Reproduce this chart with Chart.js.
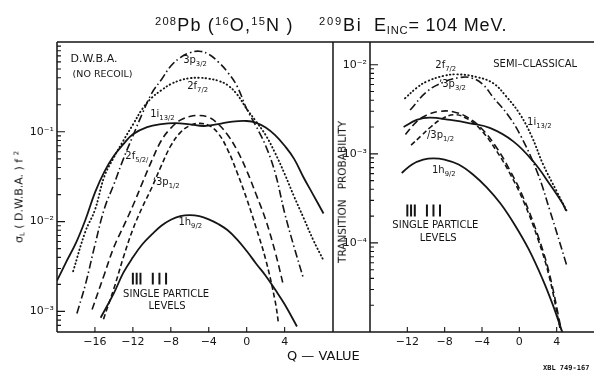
<!DOCTYPE html>
<html>
<head>
<meta charset="utf-8">
<script src="https://cdn.jsdelivr.net/npm/chart.js@4.4.1/dist/chart.umd.min.js"></script>
<style>
body { margin: 0; background: #fff; }
#wrap { position: relative; width: 594px; height: 378px; font-family: "DejaVu Sans", sans-serif; color: #111; overflow: hidden; }
#wrap canvas { position: absolute; left: 0; top: 0; }
.txt { position: absolute; white-space: nowrap; line-height: 1; }
.txt sup { font-size: 62%; position: relative; top: -0.55em; vertical-align: baseline; }
.txt sub { font-size: 62%; position: relative; top: 0.3em; vertical-align: baseline; }
.title { top: 16px; font-size: 18px; font-family: "Liberation Sans", sans-serif; letter-spacing: 1.2px; }
.rot { transform-origin: center center; transform: translate(-50%, -50%) rotate(-90deg); }
</style>
</head>
<body>
<div id="wrap">
  <canvas id="left" width="594" height="378"></canvas>
  <canvas id="right" width="594" height="378"></canvas>
  <div class="txt title" style="left:155px"><sup>208</sup>Pb (<sup>16</sup>O,<sup>15</sup>N )</div>
  <div class="txt title" style="left:319px;letter-spacing:1.8px"><sup>209</sup>Bi</div>
  <div class="txt title" style="left:374px;letter-spacing:0.8px">E<sub>INC</sub>= 104 MeV.</div>
  <div class="txt rot" style="left:19px;top:197px;font-size:11px">&sigma;<sub>L</sub> ( D.W.B.A. ) f <sup>2</sup></div>
  <div class="txt rot" style="left:342px;top:192px;font-size:10.5px">TRANSITION&nbsp;&nbsp; PROBABILITY</div>
  <div class="txt" style="left:287px;top:349px;font-size:13px">Q &mdash; VALUE</div>
  <div class="txt" style="left:543px;top:365px;font-size:7px;font-weight:bold;font-family:'DejaVu Sans Mono',monospace">XBL 749-167</div>
</div>
<script>
// ---- D.W.B.A. panel (left), Q-value vs sigma_L
let q3p32L = [-17.9,-17,-16,-15,-14,-13,-12,-11,-10,-9,-8,-7,-6,-5,-4,-3,-2,-1,0,1,2,3,4,5,6]
let v3p32L = [9.5e-4,2.0e-3,5.5e-3,0.014,0.026,0.05,0.09,0.16,0.27,0.38,0.54,0.67,0.76,0.79,0.73,0.6,0.46,0.32,0.18,0.115,0.07,0.035,0.0125,5.2e-3,2.3e-3]

let q2f72L = [-18.3,-17,-16,-15,-14,-13,-12,-11,-10,-9,-8,-7,-6,-5,-4,-3,-2,-1,0,1,2,3,4,5,6,7,8.1]
let v2f72L = [2.8e-3,7.8e-3,0.0135,0.032,0.052,0.08,0.12,0.18,0.24,0.29,0.34,0.375,0.395,0.4,0.39,0.37,0.33,0.26,0.18,0.13,0.092,0.058,0.034,0.019,0.011,6.3e-3,3.7e-3]

let q1i13L = [-20,-19,-18,-17,-16,-15,-14,-13,-12,-10.5,-9,-7.5,-6,-4.5,-3,-1.5,0,1,2,3,4,5,6,7,8.1]
let v1i13L = [2.2e-3,3.6e-3,5.8e-3,0.0105,0.021,0.036,0.054,0.073,0.094,0.113,0.122,0.125,0.121,0.116,0.122,0.13,0.132,0.126,0.112,0.092,0.07,0.05,0.031,0.02,0.0123]

let q2f52L = [-16.3,-15,-14,-13,-12,-11,-10,-9,-8,-7,-6,-5,-4,-3,-2,-1,0,1,2,3,3.9]
let v2f52L = [1.05e-3,2.6e-3,5.2e-3,8.8e-3,0.015,0.027,0.048,0.08,0.11,0.135,0.148,0.152,0.145,0.122,0.092,0.062,0.037,0.02,0.0105,4.6e-3,1.9e-3]

let q3p12L = [-15.1,-14,-13,-12,-11,-10,-9,-8,-7,-6,-5,-4,-3,-2,-1,0,1,2,3,3.35]
let v3p12L = [8.2e-4,1.8e-3,4.0e-3,8.2e-3,0.0145,0.024,0.042,0.07,0.098,0.117,0.124,0.118,0.096,0.063,0.035,0.018,8.5e-3,3.8e-3,1.3e-3,7.4e-4]

let q1h92L = [-15.4,-14,-13,-12,-11,-10,-9,-8,-7,-6,-5,-4,-3,-2,-1,0,1,2,3,4,5.3]
let v1h92L = [8.5e-4,1.6e-3,2.7e-3,4.0e-3,5.6e-3,7.2e-3,9.0e-3,0.0105,0.0115,0.0118,0.0115,0.0106,9.4e-3,8.0e-3,6.3e-3,4.7e-3,3.4e-3,2.5e-3,1.75e-3,1.2e-3,6.8e-4]

// ---- semi-classical panel (right), Q-value vs transition probability
let q2f72R = [-12.25,-11,-9.9,-8.1,-6.7,-4.6,-2.8,-1.4,0.1,1.35,2.55,4.0,5.1]
let v2f72R = [4.2e-3,5.5e-3,6.5e-3,7.5e-3,7.8e-3,7.3e-3,6.2e-3,4.4e-3,2.75e-3,1.55e-3,7.6e-4,3.8e-4,2.26e-4]

let q3p32R = [-11.7,-9.9,-8.1,-6.35,-5.1,-3.9,-2.8,-1.3,0.1,1.9,3.3,5.1]
let v3p32R = [3.1e-3,5.0e-3,6.4e-3,7.2e-3,7.1e-3,6.0e-3,4.3e-3,2.8e-3,1.63e-3,6.3e-4,2.26e-4,5.5e-5]

let q1i13R = [-12.4,-11,-9.6,-7.4,-5.3,-3.1,-0.65,1.5,3.3,4.7,5.0]
let v1i13R = [2.0e-3,2.4e-3,2.55e-3,2.4e-3,2.2e-3,1.94e-3,1.38e-3,8.2e-4,4.5e-4,2.7e-4,2.3e-4]

let q2f52R = [-12.2,-11,-10,-8.5,-7,-5.5,-4,-2.5,-1,0.5,2,3.2,4.5]
let v2f52R = [1.65e-3,2.3e-3,2.7e-3,3.0e-3,2.95e-3,2.55e-3,1.9e-3,1.2e-3,6.5e-4,3.1e-4,1.2e-4,4.6e-5,1.05e-5]

let q3p12R = [-11.6,-10.5,-9.5,-8.5,-7,-5.5,-4,-2.5,-1,0.5,2,3.2,4.4]
let v3p12R = [1.25e-3,1.6e-3,2.0e-3,2.4e-3,2.75e-3,2.45e-3,1.8e-3,1.1e-3,6.0e-4,2.85e-4,1.1e-4,4.2e-5,1.05e-5]

let q1h92R = [-12.6,-11.5,-10.3,-9.2,-8,-6.5,-5,-3.5,-2,-0.5,1,2.5,3.6,4.6]
let v1h92R = [6.1e-4,7.6e-4,8.6e-4,8.9e-4,8.6e-4,7.6e-4,5.9e-4,4.2e-4,2.75e-4,1.6e-4,8.5e-5,3.9e-5,2.0e-5,1.0e-5]

// single particle level positions (Q), tick labels
let levelQ = [-12.0,-11.6,-11.2,-9.9,-9.2,-8.5]
let xTicksL = [-16,-12,-8,-4,0,4]
let xTicksR = [-12,-8,-4,0,4]
let yLabelsL = [1e-3,1e-2,1e-1]
let yLabelsR = [1e-4,1e-3,1e-2]

const ink = '#151515'
const font = '"DejaVu Sans", sans-serif'

// line styles
let solid = { borderDash: [], borderWidth: 1.8 }
let dotted = { borderDash: [0.5, 3.2], borderWidth: 1.9, borderCapStyle: 'round' }
let dashDot = { borderDash: [8, 3, 1.5, 3], borderWidth: 1.6 }
let longDash = { borderDash: [7, 4], borderWidth: 1.6 }
let shortDash = { borderDash: [5, 3], borderWidth: 1.6 }

function series(q, v, style) {
    return Object.assign({
        data: q.map((x, i) => ({ x: x, y: v[i] })),
        borderColor: ink,
        pointRadius: 0,
        tension: 0.4,
        fill: false
    }, style)
}

const supDigits = { '-': '\u207B', '0': '\u2070', '1': '\u00B9', '2': '\u00B2', '3': '\u00B3', '4': '\u2074', '5': '\u2075' }
function powLabel(v, list) {
    if (!list.some(p => Math.abs(v / p - 1) < 1e-6)) return ''
    let e = String(Math.round(Math.log10(v)))
    return '10' + e.split('').map(c => supDigits[c]).join('')
}

function makeScales(xMin, xMax, yMin, yMax, xTicks, yLabels, yWidth) {
    return {
        x: {
            type: 'linear', min: xMin, max: xMax,
            grid: { display: false, drawTicks: false }, border: { display: false },
            afterBuildTicks: s => { s.ticks = xTicks.map(v => ({ value: v })) },
            afterFit: s => { s.height = 20 },
            ticks: {
                autoSkip: false, maxRotation: 0, padding: 4, color: ink,
                font: { family: font, size: 11 },
                callback: v => v < 0 ? '\u2212' + Math.abs(v) : String(v)
            }
        },
        y: {
            type: 'logarithmic', min: yMin, max: yMax,
            grid: { display: false, drawTicks: false }, border: { display: false },
            afterFit: s => { s.width = yWidth },
            ticks: {
                autoSkip: false, padding: 3, color: ink,
                font: { family: font, size: 11 },
                callback: v => powLabel(v, yLabels)
            }
        }
    }
}

function drawText(ctx, x, y, n) {
    let size = n.size || 10
    ctx.font = size + 'px ' + font
    ctx.textBaseline = 'middle'
    ctx.textAlign = n.align || 'left'
    ctx.fillText((n.lead || '') + n.text, x, y)
    if (n.sub) {
        let w = ctx.measureText((n.lead || '') + n.text).width
        ctx.textAlign = 'left'
        ctx.font = (size * 0.68) + 'px ' + font
        ctx.fillText(n.sub + (n.tail || ''), x + w, y + size * 0.38)
    }
}

// frame, inward ticks, labels, level bars
function panelPlugin(notes, bars, frame) {
    return {
        id: 'panel',
        afterDraw(chart) {
            let ctx = chart.ctx, a = chart.chartArea
            let xs = chart.scales.x, ys = chart.scales.y
            ctx.save()
            ctx.strokeStyle = ink
            ctx.fillStyle = ink
            ctx.lineWidth = 1.5
            ctx.beginPath()
            ctx.moveTo(a.left, a.top); ctx.lineTo(a.left, a.bottom)
            ctx.moveTo(a.left, a.top); ctx.lineTo(a.right + frame.extend, a.top)
            ctx.moveTo(a.left, a.bottom); ctx.lineTo(a.right + frame.extend, a.bottom)
            if (frame.rightEdge) { ctx.moveTo(a.right, a.top); ctx.lineTo(a.right, a.bottom) }
            ctx.stroke()
            ctx.lineWidth = 1.1
            ctx.beginPath()
            ys.ticks.forEach(t => {
                let e = Math.floor(Math.log10(t.value) + 1e-9)
                let m = t.value / Math.pow(10, e)
                if (Math.abs(m - Math.round(m)) > 1e-6) return
                let y = ys.getPixelForValue(t.value)
                if (y < a.top + 1 || y > a.bottom - 1) return
                let len = Math.round(m) === 1 ? 8 : 4
                ctx.moveTo(a.left, y); ctx.lineTo(a.left + len, y)
            })
            xs.ticks.forEach(t => {
                let x = xs.getPixelForValue(t.value)
                ctx.moveTo(x, a.bottom); ctx.lineTo(x, a.bottom - 5)
            })
            ctx.stroke()
            ctx.lineWidth = 2
            ctx.beginPath()
            levelQ.forEach(q => {
                let x = xs.getPixelForValue(q)
                ctx.moveTo(x, ys.getPixelForValue(bars[0])); ctx.lineTo(x, ys.getPixelForValue(bars[1]))
            })
            ctx.stroke()
            notes.forEach(n => drawText(ctx, xs.getPixelForValue(n.q), ys.getPixelForValue(n.v), n))
            ctx.restore()
        }
    }
}

let notesL = [
    { q: -16.1, v: 0.643, text: 'D.W.B.A.', size: 11, align: 'center' },
    { q: -15.2, v: 0.437, text: '(NO RECOIL)', size: 9.5, align: 'center' },
    { q: -6.7, v: 0.627, text: '3p', sub: '3/2' },
    { q: -6.27, v: 0.32, text: '2f', sub: '7/2' },
    { q: -10.17, v: 0.157, text: '1i', sub: '13/2' },
    { q: -12.8, v: 0.0537, text: '2f', sub: '5/2', tail: '/' },
    { q: -9.9, v: 0.0276, text: '3p', sub: '1/2', lead: '\u02BC' },
    { q: -7.2, v: 0.0098, text: '1h', sub: '9/2' },
    { q: -8.5, v: 1.53e-3, text: 'SINGLE PARTICLE', size: 10, align: 'center' },
    { q: -8.4, v: 1.15e-3, text: 'LEVELS', size: 10, align: 'center' }
]
let notesR = [
    { q: 1.7, v: 0.0102, text: 'SEMI\u2013CLASSICAL', size: 10, align: 'center' },
    { q: -9.0, v: 9.9e-3, text: '2f', sub: '7/2' },
    { q: -8.6, v: 6.05e-3, text: '3p', sub: '3/2', lead: '\u02BC' },
    { q: 0.83, v: 2.28e-3, text: '1i', sub: '13/2' },
    { q: -9.9, v: 1.59e-3, text: '3p', sub: '1/2', lead: '/' },
    { q: -9.36, v: 6.5e-4, text: '1h', sub: '9/2' },
    { q: -9.0, v: 1.58e-4, text: 'SINGLE PARTICLE', size: 10, align: 'center' },
    { q: -8.7, v: 1.12e-4, text: 'LEVELS', size: 10, align: 'center' }
]

const baseOptions = {
    responsive: false,
    animation: false,
    devicePixelRatio: 1,
    plugins: { legend: { display: false }, tooltip: { enabled: false } }
}

new Chart(document.getElementById('left'), {
    type: 'line',
    data: {
        datasets: [
            series(q3p32L, v3p32L, dashDot),
            series(q2f72L, v2f72L, dotted),
            series(q1i13L, v1i13L, solid),
            series(q2f52L, v2f52L, longDash),
            series(q3p12L, v3p12L, shortDash),
            series(q1h92L, v1h92L, solid)
        ]
    },
    options: Object.assign({}, baseOptions, {
        layout: { padding: { left: 0, top: 42, right: 261, bottom: 26 } },
        scales: makeScales(-20, 9.1, 5.9e-4, 1, xTicksL, yLabelsL, 57)
    }),
    plugins: [panelPlugin(notesL, [2.0e-3, 2.69e-3], { extend: 37, rightEdge: true })]
})

new Chart(document.getElementById('right'), {
    type: 'line',
    data: {
        datasets: [
            series(q2f72R, v2f72R, dotted),
            series(q3p32R, v3p32R, dashDot),
            series(q1i13R, v1i13R, solid),
            series(q2f52R, v2f52R, longDash),
            series(q3p12R, v3p12R, shortDash),
            series(q1h92R, v1h92R, solid)
        ]
    },
    options: Object.assign({}, baseOptions, {
        layout: { padding: { left: 0, top: 42, right: 0, bottom: 26 } },
        scales: makeScales(-16, 8, 1e-5, 0.018, xTicksR, yLabelsR, 370)
    }),
    plugins: [panelPlugin(notesR, [1.98e-4, 2.7e-4], { extend: 0, rightEdge: false })]
})
</script>
</body>
</html>
